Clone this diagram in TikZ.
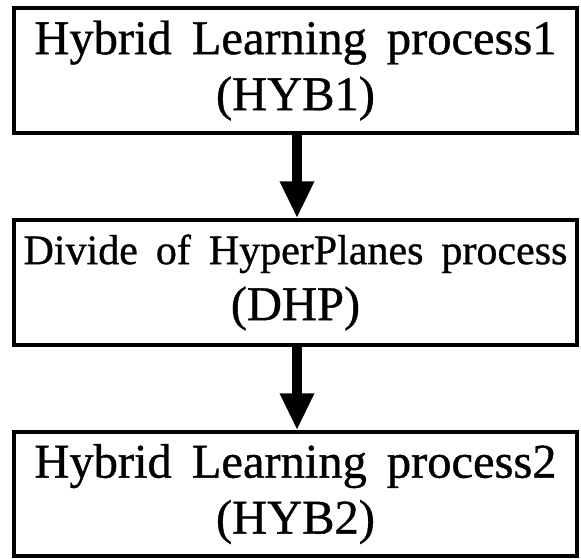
\documentclass[tikz,border=0pt]{standalone}
\usepackage{fontspec}
\setmainfont{Liberation Serif}[FakeBold=0.8]
\usetikzlibrary{arrows.meta}
\newcommand\wordgapA{\spaceskip=20pt\relax}
\newcommand\wordgapB{\spaceskip=18pt\relax}
\begin{document}
\begin{tikzpicture}[x=1pt,y=-1pt,
  box/.style={draw=black,line width=3.5pt,minimum width=563pt,minimum height=125pt,inner sep=0pt,align=center,font={\fontsize{48.5}{56}\selectfont\wordgapA}},
  arr/.style={line width=10pt,-{Triangle[length=37pt,width=32pt]}}]
\useasboundingbox (0,0) rectangle (581,558);
\node[box] (b1) at (295.5,70.5) {Hybrid Learning process1\\(HYB1)};
\node[box] (b2) at (295.5,282.5) {{\fontsize{42}{56}\selectfont\wordgapB Divide of HyperPlanes process}\\(DHP)};
\node[box,minimum height=124pt] (b3) at (295.5,494) {Hybrid Learning process2\\(HYB2)};
\draw[arr] (b1.south -| 297,0) -- (b2.north -| 297,0);
\draw[arr] (b2.south -| 297,0) -- (b3.north -| 297,0);
\end{tikzpicture}
\end{document}
